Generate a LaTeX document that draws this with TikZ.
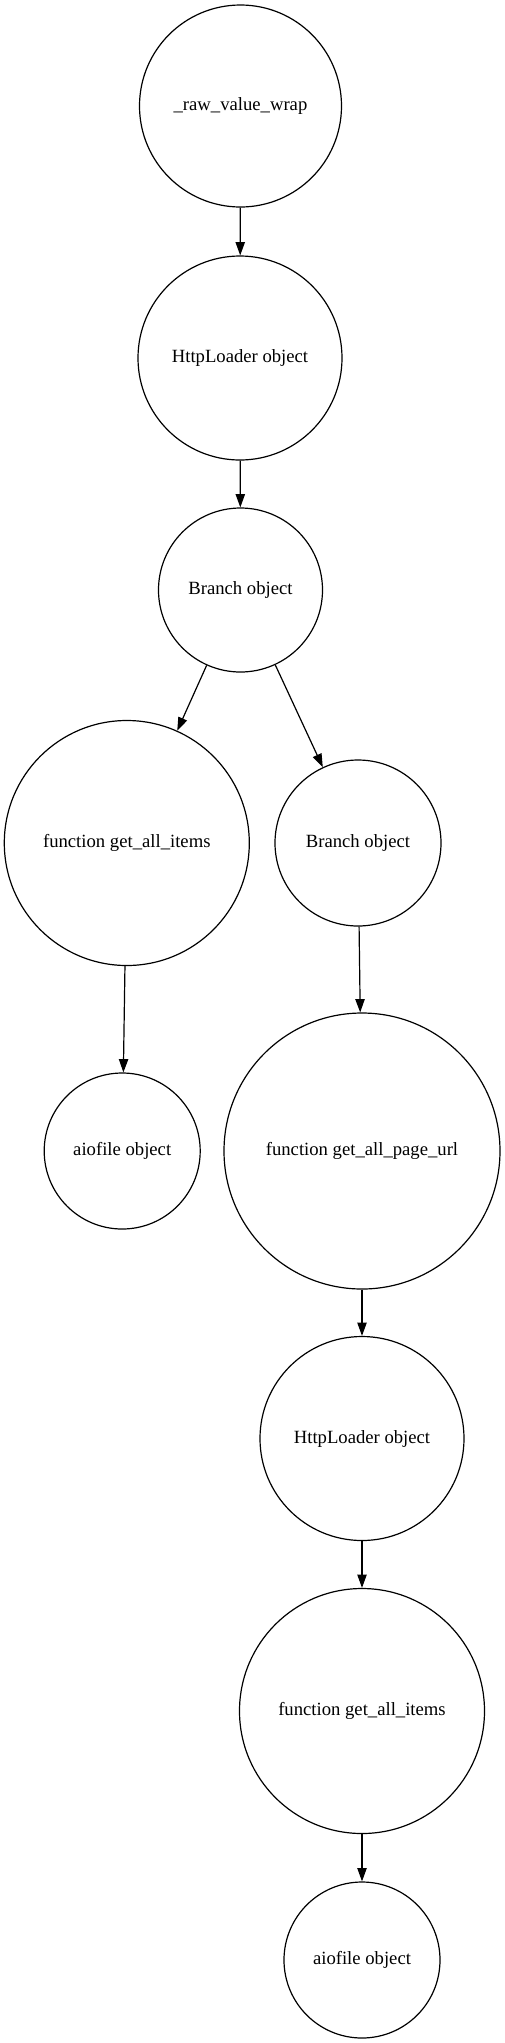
\documentclass[tikz,border=0pt]{standalone}
\usepackage{fontspec}
\setmainfont{Liberation Serif}
\usetikzlibrary{arrows.meta}
\tikzset{
  obj/.style={draw, circle, line width=0.9pt, inner sep=0pt,
              font=\fontsize{14}{16}\selectfont},
  link/.style={line width=0.9pt, -{Triangle[length=10pt,width=7pt]}}
}
\begin{document}
\begin{tikzpicture}[x=0.75pt, y=-0.75pt]
\useasboundingbox (0,0) rectangle (505,2043);
\node[obj, minimum size=151.5pt] (raw)     at (240.5,106)  {\_raw\_value\_wrap};
\node[obj, minimum size=153pt]   (loaderA) at (240,358)    {HttpLoader object};
\node[obj, minimum size=123pt]   (branchA) at (240.5,590)  {Branch object};
\node[obj, minimum size=183.75pt] (itemsA) at (126.8,843)  {function get\_all\_items};
\node[obj, minimum size=124.5pt] (branchB) at (358,843)    {Branch object};
\node[obj, minimum size=117pt]   (fileA)   at (122.2,1151) {aiofile object};
\node[obj, minimum size=207pt]   (pageurl) at (362,1151)   {function get\_all\_page\_url};
\node[obj, minimum size=153pt]   (loaderB) at (362,1438.5) {HttpLoader object};
\node[obj, minimum size=183.75pt] (itemsB) at (362,1711)   {function get\_all\_items};
\node[obj, minimum size=117pt]   (fileB)   at (362,1960)   {aiofile object};
%\node at (240,20) {graph};
\draw[link] (raw) -- (loaderA);
\draw[link] (loaderA) -- (branchA);
\draw[link] (branchA) -- (itemsA);
\draw[link] (branchA) -- (branchB);
\draw[link] (itemsA) -- (fileA);
\draw[link] (branchB) -- (pageurl);
\draw[link] (pageurl) -- (loaderB);
\draw[link] (loaderB) -- (itemsB);
\draw[link] (itemsB) -- (fileB);
\end{tikzpicture}
\end{document}
